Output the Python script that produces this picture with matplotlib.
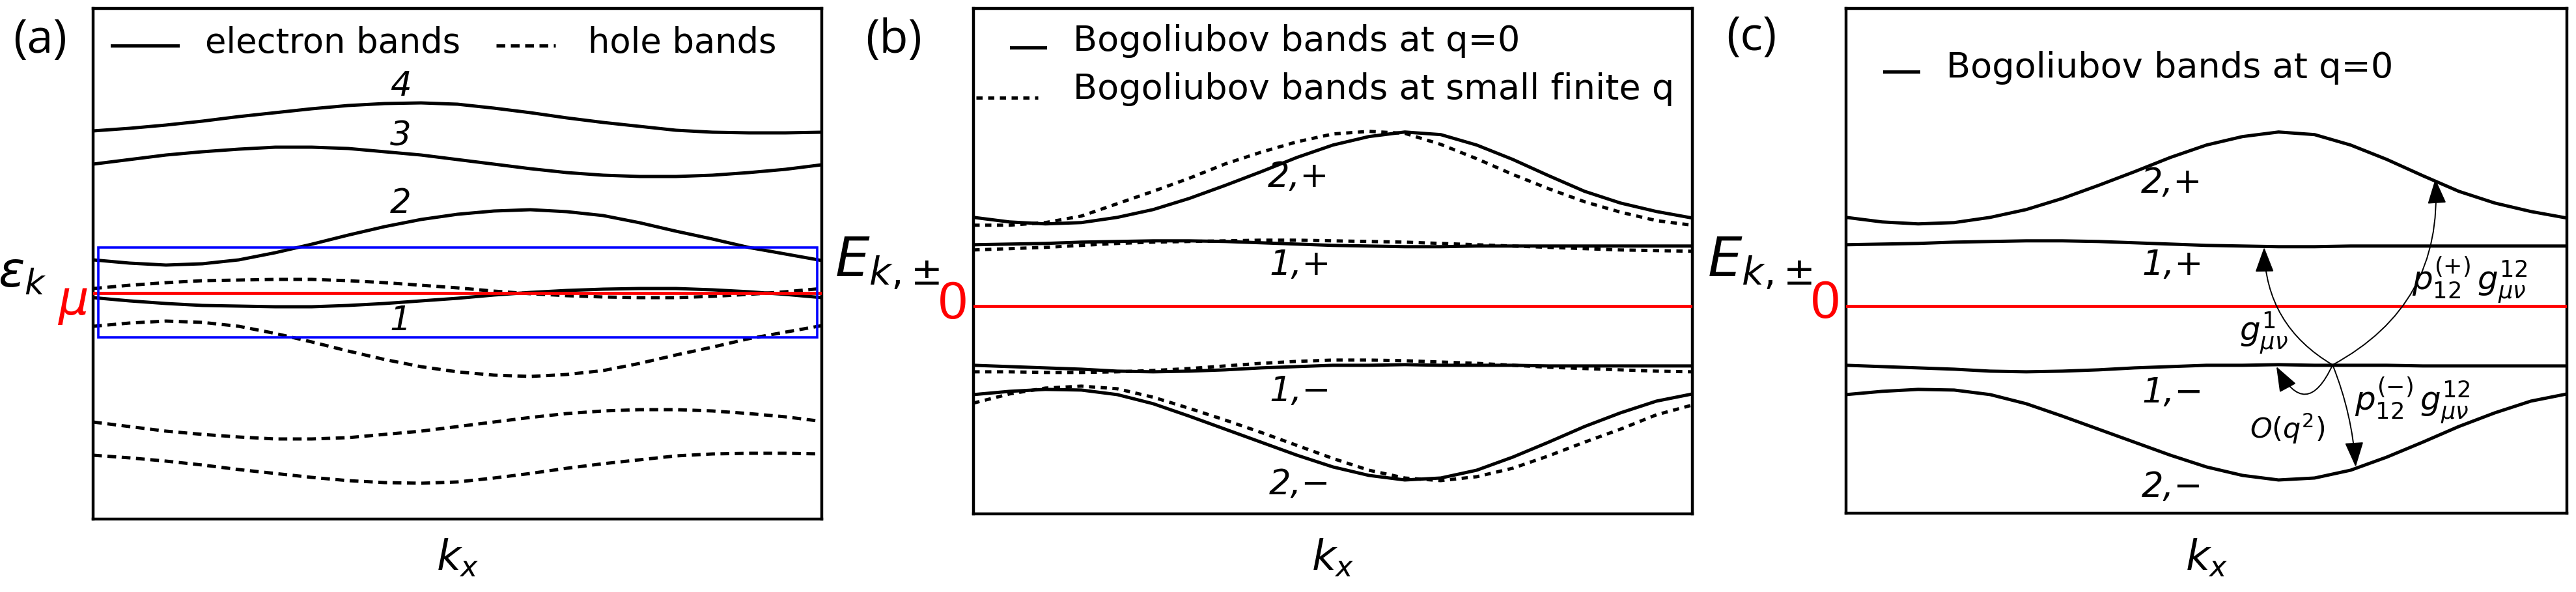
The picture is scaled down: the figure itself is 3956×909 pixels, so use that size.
import matplotlib
matplotlib.use('Agg')
import matplotlib.pyplot as plt
from matplotlib.patches import Rectangle, FancyArrowPatch
from matplotlib import transforms

plt.rcParams['font.family'] = ['DejaVu Sans']
plt.rcParams['mathtext.fontset'] = 'dejavusans'

# ---------------- data ----------------
kx = [0.00, 0.05, 0.10, 0.15, 0.20, 0.25, 0.30, 0.35, 0.40, 0.45, 0.50,
      0.55, 0.60, 0.65, 0.70, 0.75, 0.80, 0.85, 0.90, 0.95, 1.00]

# panel (a): electron (solid) and hole (dashed) bands, energy relative to mu
elec_4 = [2.49, 2.53, 2.58, 2.64, 2.71, 2.77, 2.83, 2.88, 2.91, 2.92, 2.90,
          2.84, 2.77, 2.69, 2.62, 2.56, 2.50, 2.47, 2.46, 2.46, 2.47]
elec_3 = [1.98, 2.05, 2.12, 2.17, 2.21, 2.24, 2.24, 2.22, 2.17, 2.12, 2.05,
          1.98, 1.91, 1.85, 1.81, 1.79, 1.79, 1.81, 1.85, 1.90, 1.97]
elec_2 = [0.51, 0.46, 0.43, 0.45, 0.51, 0.62, 0.75, 0.89, 1.02, 1.13, 1.21,
          1.26, 1.28, 1.25, 1.19, 1.08, 0.95, 0.83, 0.70, 0.60, 0.50]
elec_1 = [-0.07, -0.12, -0.16, -0.19, -0.20, -0.21, -0.21, -0.19, -0.16, -0.12, -0.08,
          -0.03, 0.01, 0.04, 0.06, 0.07, 0.07, 0.05, 0.02, -0.02, -0.07]
hole_1 = [0.07, 0.12, 0.16, 0.19, 0.20, 0.21, 0.21, 0.19, 0.16, 0.12, 0.08,
          0.03, -0.01, -0.04, -0.06, -0.07, -0.07, -0.05, -0.02, 0.02, 0.07]
hole_2 = [-0.51, -0.46, -0.43, -0.45, -0.51, -0.62, -0.75, -0.89, -1.02, -1.13, -1.21,
          -1.26, -1.28, -1.25, -1.19, -1.08, -0.95, -0.83, -0.70, -0.60, -0.50]
hole_3 = [-1.98, -2.05, -2.12, -2.17, -2.21, -2.24, -2.24, -2.22, -2.17, -2.12, -2.05,
          -1.98, -1.91, -1.85, -1.81, -1.79, -1.79, -1.81, -1.85, -1.90, -1.97]
hole_4 = [-2.49, -2.53, -2.58, -2.64, -2.71, -2.77, -2.83, -2.88, -2.91, -2.92, -2.90,
          -2.84, -2.77, -2.69, -2.62, -2.56, -2.50, -2.47, -2.46, -2.46, -2.47]
band_labels_a = ['4', '3', '2', '1']
band_label_pos_a = [(0.422, 3.17), (0.422, 2.40), (0.422, 1.37), (0.422, -0.43)]
box_a = (0.007, 0.994, -0.68, 0.70)   # x0, x1, E0, E1

# panels (b), (c): Bogoliubov bands
bog2p_q0 = [1.36, 1.29, 1.26, 1.28, 1.36, 1.48, 1.65, 1.85, 2.06, 2.28, 2.47,
            2.60, 2.67, 2.63, 2.47, 2.25, 2.00, 1.76, 1.58, 1.45, 1.35]
bog1p_q0 = [0.94, 0.95, 0.96, 0.98, 0.99, 1.00, 1.00, 0.99, 0.97, 0.95, 0.93,
            0.92, 0.91, 0.91, 0.92, 0.92, 0.92, 0.92, 0.92, 0.92, 0.92]
bog1m_q0 = [-0.91, -0.93, -0.95, -0.97, -1.00, -1.01, -1.00, -0.98, -0.95, -0.93, -0.91,
            -0.91, -0.90, -0.91, -0.91, -0.91, -0.92, -0.92, -0.92, -0.92, -0.92]
bog2m_q0 = [-1.36, -1.31, -1.28, -1.29, -1.36, -1.50, -1.69, -1.89, -2.09, -2.29, -2.47,
            -2.60, -2.67, -2.64, -2.52, -2.32, -2.09, -1.85, -1.64, -1.46, -1.35]
bog2p_q = [1.24, 1.24, 1.28, 1.38, 1.57, 1.76, 1.96, 2.18, 2.36, 2.52, 2.64,
           2.68, 2.65, 2.48, 2.26, 2.02, 1.80, 1.60, 1.44, 1.31, 1.24]
bog1p_q = [0.86, 0.88, 0.90, 0.93, 0.96, 0.98, 0.99, 1.00, 1.01, 1.01, 1.00,
           0.99, 0.98, 0.96, 0.94, 0.92, 0.90, 0.88, 0.86, 0.85, 0.84]
bog1m_q = [-1.01, -1.01, -1.02, -1.02, -1.01, -0.99, -0.96, -0.92, -0.88, -0.85, -0.83,
           -0.83, -0.84, -0.86, -0.88, -0.91, -0.94, -0.96, -0.98, -1.00, -1.01]
bog2m_q = [-1.49, -1.35, -1.26, -1.23, -1.27, -1.40, -1.57, -1.75, -1.94, -2.14, -2.34,
           -2.52, -2.64, -2.68, -2.62, -2.49, -2.30, -2.09, -1.89, -1.67, -1.52]
bog_labels = ['2,+', '1,+', '1,\u2212', '2,\u2212']
bog_label_pos_b = [(0.452, 1.98), (0.454, 0.63), (0.454, -1.31), (0.454, -2.74)]
bog_label_pos_c = [(0.452, 1.89), (0.453, 0.63), (0.453, -1.33), (0.453, -2.78)]

# panel (c): transition arrows (start on band 1,- ; end points)
arrow_origin = (0.675, -0.904)
arrow_ends = [(0.580, 0.90), (0.8175, 1.95), (0.707, -2.47), (0.597, -0.93)]
arrow_rads = [-0.28, 0.32, -0.08, -1.0]
arrow_texts = [r'$g_{\mu\nu}^{1}$', r'$p_{12}^{(+)}\,g_{\mu\nu}^{12}$',
               r'$p_{12}^{(-)}\,g_{\mu\nu}^{12}$', r'$O(q^2)$']
arrow_text_pos = [(0.579, -0.42), (0.865, 0.40), (0.786, -1.45), (0.612, -1.88)]
arrow_text_size = [36, 36, 36, 31]

# ---------------- figure ----------------
W, H = 3956, 909
fig = plt.figure(figsize=(W / 100, H / 100), dpi=100)


def add_ax(l, r, t, b):
    return fig.add_axes([l / W, 1 - b / H, (r - l) / W, (b - t) / H])


axA = add_ax(143, 1262, 13, 797)
axB = add_ax(1495, 2599, 13, 789)
axC = add_ax(2835, 3942, 13, 788)
for ax in (axA, axB, axC):
    ax.set_xlim(0, 1)
    ax.set_xticks([])
    ax.set_yticks([])
    for s in ax.spines.values():
        s.set_linewidth(3.2)
        s.set_color('black')
axA.set_ylim(-3.47, 4.37)
axB.set_ylim(-3.19, 4.566)
axC.set_ylim(-3.18, 4.566)

LW = 3.6
RLW = 3.4
dash_a = (2.7, 1.7)
dash_b = (1.9, 1.7)

# ---- panel (a)
for e in (elec_4, elec_3, elec_2, elec_1):
    axA.plot(kx, e, color='black', lw=LW, zorder=3)
for h in (hole_1, hole_2, hole_3, hole_4):
    axA.plot(kx, h, color='black', lw=LW, dashes=dash_a, zorder=3)
axA.axhline(0, color='red', lw=RLW, zorder=4)
axA.add_patch(Rectangle((box_a[0], box_a[2]), box_a[1] - box_a[0], box_a[3] - box_a[2],
                        fill=False, ec='#0000ff', lw=2.6, zorder=5))
for lab, (x, y) in zip(band_labels_a, band_label_pos_a):
    axA.text(x, y, lab, style='italic', fontsize=37, ha='center', va='center', zorder=6)

# legend (a)
axA.plot([0.026, 0.116], [0.927, 0.927], transform=axA.transAxes, color='black', lw=LW,
         clip_on=False)
axA.text(0.1537, 0.913, 'electron bands', transform=axA.transAxes, fontsize=38,
         ha='left', va='baseline')
axA.plot([0.553, 0.6345], [0.927, 0.927], transform=axA.transAxes, color='black', lw=LW,
         dashes=dash_a, clip_on=False)
axA.text(0.679, 0.913, 'hole bands', transform=axA.transAxes, fontsize=38,
         ha='left', va='baseline')

axA.text(-0.0974, 0.481, r'$\varepsilon_k$', transform=axA.transAxes, fontsize=54,
         ha='center', va='center')
axA.text(-0.0277, 0.4235, r'$\mu$', transform=axA.transAxes, fontsize=53, color='red',
         ha='center', va='center')

# ---- panel (b)
for e in (bog2p_q0, bog1p_q0, bog1m_q0, bog2m_q0):
    axB.plot(kx, e, color='black', lw=LW, zorder=3)
for e in (bog2p_q, bog1p_q, bog1m_q, bog2m_q):
    axB.plot(kx, e, color='black', lw=LW, dashes=dash_b, zorder=3)
axB.axhline(0, color='red', lw=RLW, zorder=4)
for lab, (x, y) in zip(bog_labels, bog_label_pos_b):
    axB.text(x, y, lab, style='italic', fontsize=38, ha='center', va='center')

axB.plot([0.0525, 0.0996], [0.9233, 0.9233], transform=axB.transAxes, color='black',
         lw=LW, clip_on=False)
axB.text(0.1386, 0.916, 'Bogoliubov bands at q=0', transform=axB.transAxes,
         fontsize=39, ha='left', va='baseline')
axB.plot([0.0036, 0.0897], [0.8235, 0.8235], transform=axB.transAxes, color='black',
         lw=LW, dashes=dash_b, clip_on=False)
axB.text(0.1386, 0.821, 'Bogoliubov bands at small finite q', transform=axB.transAxes,
         fontsize=39, ha='left', va='baseline')

# ---- panel (c)
for e in (bog2p_q0, bog1p_q0, bog1m_q0, bog2m_q0):
    axC.plot(kx, e, color='black', lw=LW, zorder=3)
axC.axhline(0, color='red', lw=RLW, zorder=4)
for lab, (x, y) in zip(bog_labels, bog_label_pos_c):
    axC.text(x, y, lab, style='italic', fontsize=38, ha='center', va='center')
axC.plot([0.0533, 0.1003], [0.8748, 0.8748], transform=axC.transAxes, color='black',
         lw=LW, clip_on=False)
axC.text(0.1391, 0.863, 'Bogoliubov bands at q=0', transform=axC.transAxes,
         fontsize=39, ha='left', va='baseline')

for end, rad in zip(arrow_ends, arrow_rads):
    axC.add_patch(FancyArrowPatch(arrow_origin, end, connectionstyle=f'arc3,rad={rad}',
                                  arrowstyle='-|>,head_length=0.8,head_width=0.3',
                                  mutation_scale=30, lw=1.4, color='black',
                                  shrinkA=0, shrinkB=0, zorder=5))
for txt, (x, y), fs in zip(arrow_texts, arrow_text_pos, arrow_text_size):
    axC.text(x, y, txt, fontsize=fs, ha='center', va='center', zorder=6)

# ---- y labels (b), (c)
for ax, xl in ((axB, -0.193), (axC, -0.192)):
    ax.text(xl, 0.496, r'$E_{k{,}\pm}$', transform=ax.transAxes, fontsize=60,
            ha='left', va='center')
    ax.text(-0.029, 0.4143, '0', transform=ax.transAxes, fontsize=58, color='red',
            family=['Liberation Sans Narrow', 'Liberation Sans', 'DejaVu Sans'],
            ha='center', va='center')

# ---- x labels
for ax in (axA, axB, axC):
    tr = transforms.blended_transform_factory(ax.transAxes, fig.transFigure)
    ax.text(0.5, 1 - 857 / H, r'$k_x$', transform=tr, fontsize=46, ha='center',
            va='center')

# ---- panel letters
for lab, (x, y) in zip(['(a)', '(b)', '(c)'], [(62, 62), (1372, 62), (2690, 58)]):
    fig.text(x / W, 1 - y / H, lab, fontsize=52, family=['Open Sans', 'DejaVu Sans'],
             ha='center', va='center')

fig.savefig('out.png', dpi=100)
